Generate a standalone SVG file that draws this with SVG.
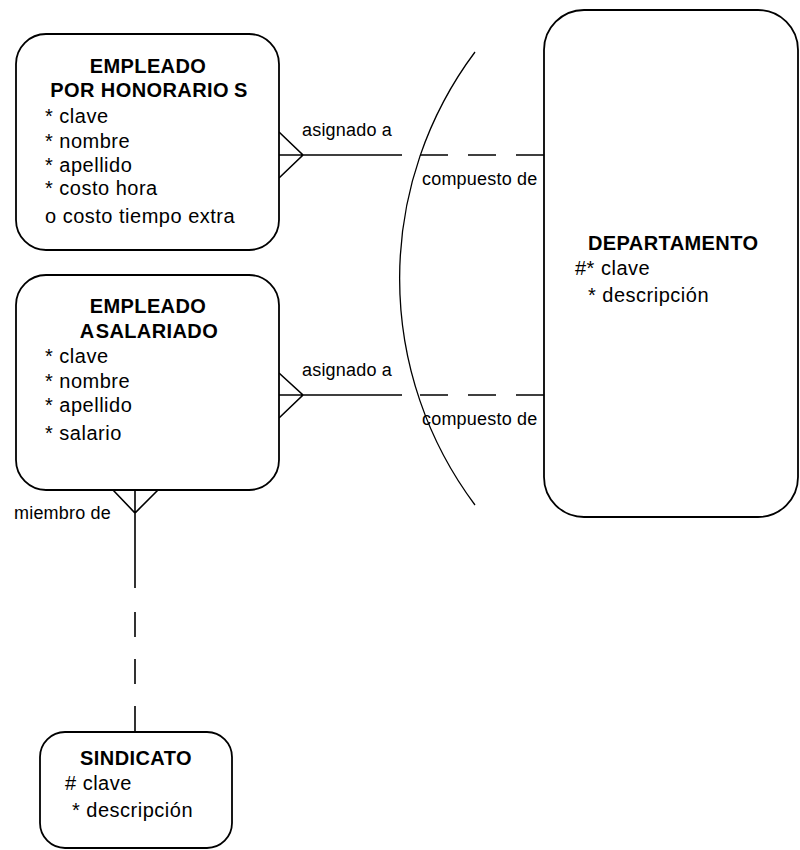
<svg xmlns="http://www.w3.org/2000/svg" width="800" height="850" viewBox="0 0 800 850">
<style>
.box{fill:#fff;stroke:#000;stroke-width:1.8}
.ln{fill:none;stroke:#000;stroke-width:1.6}
.t{font-family:"Liberation Sans",Arial,sans-serif;font-weight:bold;font-size:20px;letter-spacing:0.4px;fill:#000}
.a{font-family:"Liberation Sans",Arial,sans-serif;font-size:20px;letter-spacing:0.5px;fill:#000}
.l{font-family:"Liberation Sans",Arial,sans-serif;font-size:18px;letter-spacing:0.2px;fill:#000}
</style>
<rect width="800" height="850" fill="#fff"/>
<g id="connectors">
<path class="ln" d="M279,132 L303,155 L279,178 M279,155 L402,155"/>
<path class="ln" d="M420,155 L544,155" stroke-dasharray="28 20"/>
<path class="ln" d="M279,373 L303,395 L279,418 M279,395 L402,395"/>
<path class="ln" d="M420,395 L544,395" stroke-dasharray="28 20"/>
<path class="ln" d="M113,490 L135,513 L158,490 M135,490 L135,588"/>
<path class="ln" d="M135,612 L135,732" stroke-dasharray="25 22"/>
<path d="M475,52 A378,378 0 0 0 475,505" fill="none" stroke="#000" stroke-width="1.3"/>
<text class="l" x="302" y="136">asignado a</text>
<text class="l" x="302" y="376">asignado a</text>
<text class="l" x="422" y="185">compuesto de</text>
<text class="l" x="422" y="425">compuesto de</text>
<text class="l" x="14" y="519">miembro de</text>
</g>
<g id="empleado-honorarios">
<rect class="box" x="16" y="34" width="263" height="216" rx="30"/>
<text class="t" x="148" y="73" text-anchor="middle">EMPLEADO</text>
<text class="t" x="149" y="97" text-anchor="middle">POR HONORARIO<tspan dx="5">S</tspan></text>
<text class="a" x="45" y="123">* clave</text>
<text class="a" x="45" y="148">* nombre</text>
<text class="a" x="45" y="172">* apellido</text>
<text class="a" x="45" y="195">* costo hora</text>
<text class="a" x="45" y="223">o costo tiempo extra</text>
</g>
<g id="empleado-asalariado">
<rect class="box" x="16" y="275" width="263" height="215" rx="30"/>
<text class="t" x="148" y="313" text-anchor="middle">EMPLEADO</text>
<text class="t" x="149" y="338" text-anchor="middle">A<tspan dx="1">SALARIADO</tspan></text>
<text class="a" x="45" y="363">* clave</text>
<text class="a" x="45" y="388">* nombre</text>
<text class="a" x="45" y="412">* apellido</text>
<text class="a" x="45" y="440">* salario</text>
</g>
<g id="departamento">
<rect class="box" x="544" y="10" width="254" height="507" rx="40"/>
<text class="t" x="588" y="250">DEPARTAMENTO</text>
<text class="a" x="575" y="275">#* clave</text>
<text class="a" x="588" y="302">* descripción</text>
</g>
<g id="sindicato">
<rect class="box" x="40" y="732" width="192" height="116" rx="25"/>
<text class="t" x="136" y="765" text-anchor="middle">SINDICATO</text>
<text class="a" x="65" y="790"># clave</text>
<text class="a" x="72" y="817">* descripción</text>
</g>
</svg>
